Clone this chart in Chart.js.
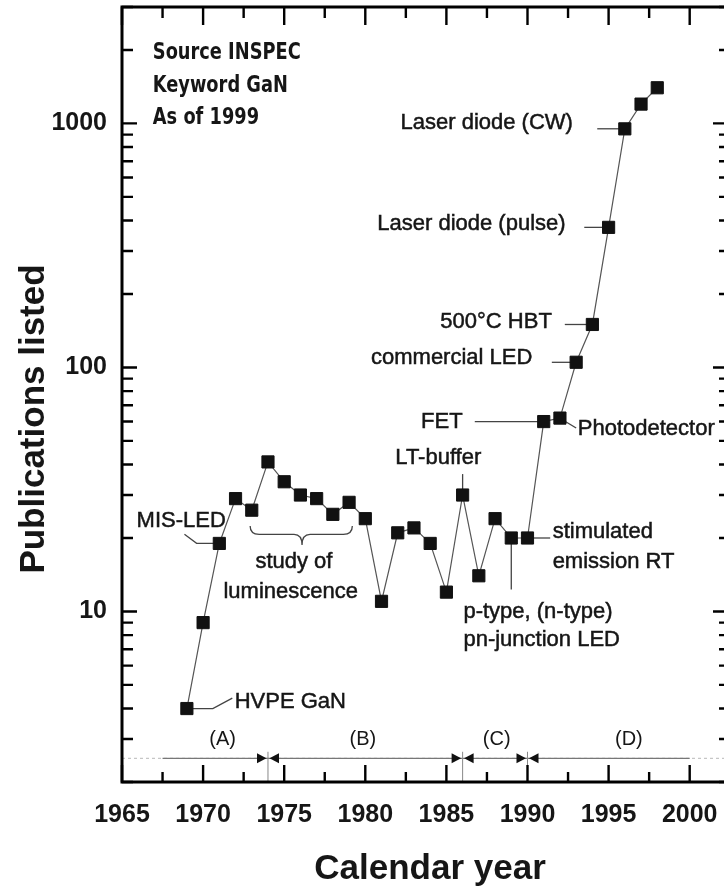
<!DOCTYPE html>
<html>
<head>
<meta charset="utf-8">
<script src="https://cdn.jsdelivr.net/npm/chart.js@4.4.0/dist/chart.umd.min.js"></script>
<style>
  html, body { margin: 0; padding: 0; background: #fff; overflow: hidden; }
  #wrap { position: relative; width: 724px; height: 888px; overflow: hidden; }
  #myChart { display: block; width: 730px; height: 888px; }
</style>
</head>
<body>
<div id="wrap"><canvas id="myChart" width="730" height="888"></canvas></div>
<script>
// GaN papers listed in INSPEC per year
const years = [1969, 1970, 1971, 1972, 1973, 1974, 1975, 1976, 1977, 1978,
  1979, 1980, 1981, 1982, 1983, 1984, 1985, 1986, 1987, 1988,
  1989, 1990, 1991, 1992, 1993, 1994, 1995, 1996, 1997, 1998];
const publications = [4, 9, 19, 29, 26, 41, 34, 30, 29, 25,
  28, 24, 11, 21, 22, 19, 12, 30, 14, 24,
  20, 20, 60, 62, 105, 150, 375, 950, 1200, 1400];

const xTicks = [1965, 1970, 1975, 1980, 1985, 1990, 1995, 2000];
const yTickLabels = [10, 100, 1000];
const sourceLines = ["Source INSPEC", "Keyword GaN", "As of 1999"];
const periodLabels = ["(A)", "(B)", "(C)", "(D)"];
const periodEdges = [1974, 1986, 1990];

const ink = "#161616";
const noteFont = '22px "Liberation Sans", Arial, sans-serif';
const headFont = 'bold 23px "Liberation Sans Narrow", "DejaVu Sans Condensed", sans-serif';
const axisFont = { family: '"Liberation Sans", Arial, sans-serif', size: 25, weight: "bold" };

// annotation text: [text, year, log10(count), align]
const notes = [
  ["Laser diode (CW)", 1992.8, 3.004, "right"],
  ["Laser diode (pulse)", 1992.35, 2.589, "right"],
  ["500°C HBT", 1991.5, 2.187, "right"],
  ["commercial LED", 1990.3, 2.039, "right"],
  ["FET", 1986.0, 1.776, "right"],
  ["Photodetector", 1993.1, 1.747, "left"],
  ["LT-buffer", 1984.5, 1.628, "center"],
  ["stimulated", 1991.55, 1.324, "left"],
  ["emission RT", 1991.55, 1.201, "left"],
  ["p-type, (n-type)", 1986.05, 0.996, "left"],
  ["pn-junction LED", 1986.05, 0.885, "left"],
  ["MIS-LED", 1965.9, 1.37, "left"],
  ["HVPE GaN", 1971.95, 0.63, "left"],
  ["study of", 1975.6, 1.201, "center"],
  ["luminescence", 1975.4, 1.078, "center"],
];

// leader lines: polylines of [year, log10(count)]
const leaders = [
  [[1994.3, 2.978], [1996, 2.978]],
  [[1993.5, 2.574], [1995, 2.574]],
  [[1992.3, 2.176], [1994, 2.176]],
  [[1991.5, 2.021], [1993, 2.021]],
  [[1986.75, 1.778], [1991, 1.778]],
  [[1992, 1.792], [1993.0, 1.752]],
  [[1986, 1.563], [1986, 1.477]],
  [[1990, 1.301], [1991.4, 1.301]],
  [[1989, 1.301], [1989, 1.09]],
  [[1968.85, 1.316], [1969.6, 1.279], [1971, 1.279]],
  [[1969, 0.602], [1970.6, 0.602], [1971.8, 0.645]],
];

const ganPlugin = {
  id: "gan",
  beforeDatasetsDraw(chart) {
    const { ctx, chartArea: a, scales: { x, y } } = chart;
    const X = (v) => x.getPixelForValue(v);
    const Y = (lg) => y.getPixelForValue(Math.pow(10, lg));
    ctx.save();

    // leaders
    ctx.strokeStyle = "#444";
    ctx.lineWidth = 1.3;
    leaders.forEach((pts) => {
      ctx.beginPath();
      pts.forEach((p, i) => (i ? ctx.lineTo(X(p[0]), Y(p[1])) : ctx.moveTo(X(p[0]), Y(p[1]))));
      ctx.stroke();
    });

    // brace under the luminescence years
    const bx1 = X(1972.9), bx2 = X(1979.2), bxm = X(1976.1);
    const by1 = Y(1.35), by2 = Y(1.316), by3 = Y(1.272);
    ctx.beginPath();
    ctx.moveTo(bx1, by1);
    ctx.quadraticCurveTo(bx1, by2, bx1 + 9, by2);
    ctx.lineTo(bxm - 8, by2);
    ctx.quadraticCurveTo(bxm, by2, bxm, by3);
    ctx.quadraticCurveTo(bxm, by2, bxm + 8, by2);
    ctx.lineTo(bx2 - 9, by2);
    ctx.quadraticCurveTo(bx2, by2, bx2, by1);
    ctx.stroke();

    // period arrows
    const ya = y.getPixelForValue(2.5);
    ctx.setLineDash([3, 3]);
    ctx.strokeStyle = "#c4c4c4";
    ctx.lineWidth = 1.2;
    ctx.beginPath(); ctx.moveTo(a.left, ya); ctx.lineTo(a.right, ya); ctx.stroke();
    ctx.setLineDash([]);
    ctx.strokeStyle = "#777";
    ctx.beginPath(); ctx.moveTo(X(1967.5), ya); ctx.lineTo(X(2000), ya); ctx.stroke();
    ctx.strokeStyle = "#888";
    ctx.lineWidth = 1;
    periodEdges.forEach((yr) => {
      const px = X(yr);
      ctx.beginPath(); ctx.moveTo(px, y.getPixelForValue(2.66)); ctx.lineTo(px, a.bottom); ctx.stroke();
      ctx.fillStyle = "#111";
      ctx.beginPath();
      ctx.moveTo(px - 1.5, ya); ctx.lineTo(px - 11, ya - 5); ctx.lineTo(px - 11, ya + 5); ctx.closePath();
      ctx.fill();
      ctx.beginPath();
      ctx.moveTo(px + 1.5, ya); ctx.lineTo(px + 11, ya - 5); ctx.lineTo(px + 11, ya + 5); ctx.closePath();
      ctx.fill();
    });
    ctx.restore();
  },
  afterDatasetsDraw(chart) {
    const { ctx, chartArea: a, scales: { x, y } } = chart;
    const X = (v) => x.getPixelForValue(v);
    const Y = (lg) => y.getPixelForValue(Math.pow(10, lg));
    ctx.save();
    ctx.fillStyle = ink;
    ctx.strokeStyle = ink;
    ctx.textBaseline = "middle";

    // annotations
    ctx.font = noteFont;
    ctx.lineWidth = 0.5;
    notes.forEach(([t, yr, lg, al]) => {
      ctx.textAlign = al;
      ctx.fillText(t, X(yr), Y(lg));
      ctx.strokeText(t, X(yr), Y(lg));
    });
    ctx.font = '20px "Liberation Sans", Arial, sans-serif';
    ctx.textAlign = "center";
    [1971.2, 1979.85, 1988.1, 1996.25].forEach((yr, i) => {
      ctx.fillText(periodLabels[i], X(yr), Y(0.474));
    });

    // source block, squeezed to a condensed look
    ctx.font = headFont;
    ctx.textAlign = "left";
    [3.288, 3.152, 3.021].forEach((lg, i) => {
      ctx.save();
      ctx.translate(X(1966.9), Y(lg));
      ctx.scale(0.86, 1);
      ctx.fillText(sourceLines[i], 0, 0);
      ctx.restore();
    });

    // inward ticks
    ctx.strokeStyle = "#000";
    ctx.lineWidth = 2.4;
    ctx.beginPath();
    for (let yr = 1965; yr <= 2000; yr += 2.5) {
      const px = X(yr), major = yr % 5 === 0;
      ctx.moveTo(px, a.top); ctx.lineTo(px, a.top + (major ? 18 : 11));
      ctx.moveTo(px, a.bottom); ctx.lineTo(px, a.bottom - (major ? 17 : 10));
    }
    [1, 10, 100, 1000].forEach((d) => {
      for (let m = 1; m <= 9; m++) {
        const v = m * d;
        if (v < 2 || v > 3000) continue;
        const py = y.getPixelForValue(v), major = m === 1;
        ctx.moveTo(a.left, py); ctx.lineTo(a.left + (major ? 15 : 11), py);
        ctx.moveTo(a.right, py); ctx.lineTo(a.right - (major ? 14 : 8), py);
      }
    });
    ctx.stroke();

    // frame
    ctx.lineWidth = 3;
    ctx.strokeRect(a.left, a.top, a.right - a.left, a.bottom - a.top);

    // axis titles
    ctx.fillStyle = ink;
    ctx.font = 'bold 35px "Liberation Sans", Arial, sans-serif';
    ctx.textAlign = "center";
    ctx.textBaseline = "alphabetic";
    ctx.fillText("Calendar year", 430, 879);
    ctx.translate(44, 419);
    ctx.rotate(-Math.PI / 2);
    ctx.fillText("Publications listed", 0, 0);
    ctx.restore();
  },
};

const ctx = document.getElementById("myChart");

new Chart(ctx, {
  type: "line",
  data: {
    datasets: [
      {
        data: years.map((yr, i) => ({ x: yr, y: publications[i] })),
        borderColor: "#555",
        borderWidth: 1.2,
        pointStyle: "rect",
        pointRadius: 8.6,
        pointBackgroundColor: "#111",
        pointBorderColor: "#111",
        pointBorderWidth: 1,
        tension: 0,
      },
    ],
  },
  options: {
    responsive: false,
    maintainAspectRatio: false,
    animation: false,
    devicePixelRatio: 1,
    layout: { autoPadding: false, padding: { top: 7, right: 3, left: 0, bottom: 0 } },
    plugins: { legend: { display: false }, tooltip: { enabled: false } },
    scales: {
      x: {
        type: "linear",
        min: 1965,
        max: 2002.3,
        afterBuildTicks: (s) => {
          s.ticks = xTicks.map((v) => ({ value: v }));
        },
        afterFit: (s) => {
          s.height = 106;
          s.paddingLeft = 0;
          s.paddingRight = 0;
        },
        border: { display: false },
        grid: { display: false, drawTicks: false },
        ticks: {
          color: ink,
          font: axisFont,
          padding: 18,
          maxRotation: 0,
          autoSkip: false,
          callback: (v) => String(v),
        },
      },
      y: {
        type: "logarithmic",
        min: 2,
        max: 3000,
        afterBuildTicks: (s) => {
          const t = [];
          [1, 10, 100, 1000].forEach((d) => {
            for (let m = 1; m <= 9; m++) if (m * d >= 2 && m * d <= 3000) t.push({ value: m * d });
          });
          s.ticks = t;
        },
        afterFit: (s) => {
          s.width = 122;
          s.paddingTop = 0;
          s.paddingBottom = 0;
        },
        border: { display: false },
        grid: { display: false, drawTicks: false },
        ticks: {
          color: ink,
          font: axisFont,
          padding: 15,
          autoSkip: false,
          callback: (v) => (yTickLabels.includes(v) ? String(v) : ""),
        },
      },
    },
  },
  plugins: [ganPlugin],
});
</script>
</body>
</html>
